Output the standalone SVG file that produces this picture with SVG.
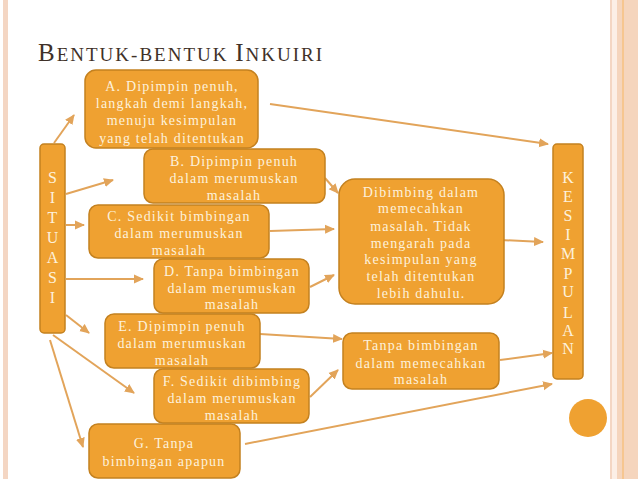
<svg xmlns="http://www.w3.org/2000/svg" width="638" height="479" viewBox="0 0 638 479">
<defs>
<marker id="ah" markerUnits="userSpaceOnUse" markerWidth="10" markerHeight="10" viewBox="0 0 10 10" refX="9" refY="5" orient="auto">
<path d="M0,0.5 L10,5 L0,9.5 Z" fill="#e2a45a"/>
</marker>
<style>
.box{fill:#efa131;stroke:#c4811f;stroke-width:1.5}
.t{font-size:14px;fill:#fdf1dc;text-anchor:middle;letter-spacing:1.2px}
.v{font-size:16px;fill:#fdf1dc;text-anchor:middle}
.c line{stroke:#e2a45a;stroke-width:2;marker-end:url(#ah)}
</style>
</defs>
<rect width="638" height="479" fill="#ffffff"/>
<!-- borders -->
<rect x="3" y="0" width="5" height="479" fill="#f4d6c3"/>
<rect x="610" y="0" width="2" height="479" fill="#f4d6c3"/>
<rect x="612" y="0" width="5" height="479" fill="#fcefe6"/>
<rect x="617" y="0" width="21" height="479" fill="#f5d5bd"/>
<rect x="622" y="0" width="2" height="479" fill="#f6c690"/>
<g font-family="'Liberation Serif', serif">
<!-- title -->
<text x="38" y="61" fill="#3f3128" letter-spacing="2"><tspan font-size="25">B</tspan><tspan font-size="19">ENTUK-BENTUK </tspan><tspan font-size="25">I</tspan><tspan font-size="19">NKUIRI</tspan></text>
<!-- connectors -->
<g id="connectors" class="c">
<line x1="54" y1="143" x2="74" y2="115"/>
<line x1="270" y1="104" x2="548" y2="144"/>
<line x1="66" y1="194" x2="113" y2="180"/>
<line x1="66" y1="225" x2="84" y2="225"/>
<line x1="66" y1="279" x2="143" y2="279"/>
<line x1="66" y1="315" x2="89" y2="333"/>
<line x1="53" y1="335" x2="134" y2="393"/>
<line x1="50" y1="340" x2="83" y2="447"/>
<line x1="325" y1="178" x2="338" y2="193"/>
<line x1="270" y1="231" x2="334" y2="229"/>
<line x1="310" y1="287" x2="334" y2="275"/>
<line x1="500" y1="240" x2="543" y2="242"/>
<line x1="260" y1="334" x2="342" y2="339"/>
<line x1="310" y1="397" x2="338" y2="370"/>
<line x1="500" y1="360" x2="552" y2="353"/>
<line x1="245" y1="444" x2="552" y2="384"/>
</g>
<g id="situasi">
<rect class="box" x="40" y="144" width="25" height="189" rx="4"/>
<text class="v"><tspan x="52.5" y="183">S</tspan><tspan x="52.5" y="203">I</tspan><tspan x="52.5" y="223">T</tspan><tspan x="52.5" y="243">U</tspan><tspan x="52.5" y="263">A</tspan><tspan x="52.5" y="283">S</tspan><tspan x="52.5" y="303">I</tspan></text>
</g>
<g id="nodeA">
<rect class="box" x="85" y="70" width="173" height="78" rx="11"/>
<text class="t"><tspan x="172" y="91">A. Dipimpin penuh,</tspan><tspan x="172" y="108">langkah demi langkah,</tspan><tspan x="172" y="125">menuju kesimpulan</tspan><tspan x="172" y="143">yang telah ditentukan</tspan></text>
</g>
<g id="nodeB">
<rect class="box" x="144" y="149" width="181" height="54" rx="9"/>
<text class="t"><tspan x="234" y="166">B. Dipimpin penuh</tspan><tspan x="234" y="183">dalam merumuskan</tspan><tspan x="234" y="200">masalah</tspan></text>
</g>
<g id="nodeC">
<rect class="box" x="89" y="205" width="180" height="53" rx="9"/>
<text class="t"><tspan x="179" y="221">C. Sedikit bimbingan</tspan><tspan x="179" y="238">dalam merumuskan</tspan><tspan x="179" y="255">masalah</tspan></text>
</g>
<g id="nodeD">
<rect class="box" x="154" y="259" width="155" height="54" rx="9"/>
<text class="t"><tspan x="232" y="276">D. Tanpa bimbingan</tspan><tspan x="232" y="293">dalam merumuskan</tspan><tspan x="232" y="309">masalah</tspan></text>
</g>
<g id="nodeE">
<rect class="box" x="105" y="314" width="155" height="54" rx="9"/>
<text class="t"><tspan x="182" y="331">E. Dipimpin penuh</tspan><tspan x="182" y="348">dalam merumuskan</tspan><tspan x="182" y="365">masalah</tspan></text>
</g>
<g id="nodeF">
<rect class="box" x="154" y="369" width="155" height="54" rx="9"/>
<text class="t"><tspan x="232" y="386">F. Sedikit dibimbing</tspan><tspan x="232" y="403">dalam merumuskan</tspan><tspan x="232" y="420">masalah</tspan></text>
</g>
<g id="nodeG">
<rect class="box" x="89" y="424" width="151" height="54" rx="9"/>
<text class="t"><tspan x="164" y="448">G. Tanpa</tspan><tspan x="164" y="466">bimbingan apapun</tspan></text>
</g>
<g id="nodeDibimbing">
<rect class="box" x="339" y="179" width="165" height="125" rx="16"/>
<text class="t"><tspan x="421" y="197">Dibimbing dalam</tspan><tspan x="421" y="213">memecahkan</tspan><tspan x="421" y="231">masalah. Tidak</tspan><tspan x="421" y="248">mengarah pada</tspan><tspan x="421" y="264">kesimpulan yang</tspan><tspan x="421" y="281">telah ditentukan</tspan><tspan x="421" y="298">lebih dahulu.</tspan></text>
</g>
<g id="nodeTanpa">
<rect class="box" x="343" y="333" width="156" height="56" rx="9"/>
<text class="t"><tspan x="421" y="350">Tanpa bimbingan</tspan><tspan x="421" y="368">dalam memecahkan</tspan><tspan x="421" y="384">masalah</tspan></text>
</g>
<g id="kesimpulan">
<rect class="box" x="553" y="144" width="30" height="235" rx="4"/>
<text class="v"><tspan x="568" y="183">K</tspan><tspan x="568" y="202">E</tspan><tspan x="568" y="221">S</tspan><tspan x="568" y="240">I</tspan><tspan x="568" y="259">M</tspan><tspan x="568" y="279">P</tspan><tspan x="568" y="297">U</tspan><tspan x="568" y="318">L</tspan><tspan x="568" y="336">A</tspan><tspan x="568" y="354">N</tspan></text>
</g>
</g>
<circle cx="588" cy="418" r="19" fill="#efa131"/>
</svg>
